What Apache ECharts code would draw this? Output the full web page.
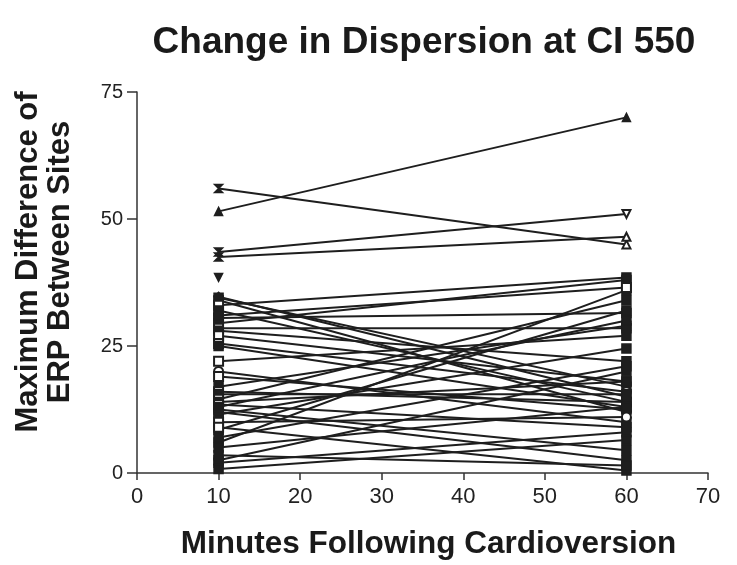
<!DOCTYPE html>
<html><head><meta charset="utf-8">
<script src="https://cdn.jsdelivr.net/npm/echarts@6/dist/echarts.min.js"></script>
<style>html,body{margin:0;padding:0;background:#fff}#c{width:737px;height:565px}</style>
</head><body><div id="c"></div>
<script>
const titleText = 'Change in Dispersion at CI 550';
const xName = 'Minutes Following Cardioversion';
const yNameLines = ['Maximum Difference of', 'ERP Between Sites'];
const timePoints = [10, 60];
const yTicks = [0, 25, 50, 75];
const xTicks = [0, 10, 20, 30, 40, 50, 60, 70];
// value at 10 min and at 60 min for each subject
const at10 = [51.5, 56, 43.5, 42.5, 38.5,
  34.7, 34.5, 34, 33, 32, 30.5, 29.5, 28.5, 28, 27, 25.5, 25,
  20, 19, 17, 16, 15.5, 14.5, 14, 13.5, 12.5, 11.5, 10, 8.5, 6, 5, 2.5, 2, 9, 12, 13,
  22, 0.8, 3.5, 7, 31];
const at60 = [70, 45, 51, 46.5, null,
  15, 17, 12, 38.5, 14, 31.5, 38, 28.5, 22, 18, 16, 13,
  10, 12.5, 29, 14, 15.5, 34, 18, 9, 4.5, 24.5, 11, 32, 36, 13, 20, 8, 0.5, 2.5, 30,
  27, 6.5, 1.5, 21, 36.5];
const hourglass = 'path://M0,0 L10,0 L0,10 L10,10 Z';
const sym10 = ['triangle', hourglass, hourglass, hourglass, 'triangle',
  'diamond','rect','rect','emptyRect','rect','emptyRect','rect','emptyRect','rect','emptyRect','emptyRect','rect',
  'emptyCircle','emptyRect','rect','emptyRect','rect','emptyRect','rect','emptyRect','rect','rect','emptyRect','rect','rect','rect','rect','rect','emptyRect','rect','rect',
  'emptyRect','rect','rect','rect','rect'];
const sym60 = ['triangle','emptyTriangle','emptyTriangle','emptyTriangle','triangle',
  'rect','rect','emptyCircle','rect','rect','rect','rect','rect','rect','rect','emptyCircle','rect',
  'rect','rect','rect','rect','rect','rect','rect','rect','rect','rect','emptyCircle','rect','rect','rect','rect','rect','rect','rect','rect',
  'rect','rect','rect','rect','emptyRect'];

const series = at10.map((v, i) => {
  const d0 = {value: [timePoints[0], v], symbol: sym10[i]};
  const d1 = {value: [timePoints[1], at60[i]], symbol: sym60[i]};
  if (i === 4) d0.symbolRotate = 180;
  if (i === 2) d1.symbolRotate = 180;
  return {
    type: 'line',
    data: at60[i] === null ? [d0] : [d0, d1],
    symbolSize: i < 5 ? 8 : 9,
    showSymbol: true,
    lineStyle: {color: '#1e1e1e', width: 2},
    itemStyle: {color: '#1e1e1e', borderColor: '#1e1e1e', borderWidth: 1.5},
    emphasis: {disabled: true},
    animation: false,
    z: 2
  };
});

const chart = echarts.init(document.getElementById('c'), null, {renderer: 'canvas'});
chart.setOption({
  backgroundColor: '#ffffff',
  animation: false,
  title: {text: titleText, left: 419, top: 19, textAlign: 'center',
    textStyle: {fontFamily: 'Liberation Sans', fontWeight: 'bold', fontSize: 37, color: '#1a1a1a'}},
  grid: {left: 137, right: 29, top: 92, bottom: 92, containLabel: false},
  graphic: [{
    type: 'text', rotation: Math.PI / 2, x: 44, y: 262,
    style: {text: yNameLines.join('\n'), align: 'center', verticalAlign: 'middle',
      font: 'bold 31px "Liberation Sans"', lineHeight: 32, fill: '#1a1a1a'}
  }],
  xAxis: {type: 'value', min: xTicks[0], max: xTicks[xTicks.length - 1], interval: 10,
    name: xName, nameLocation: 'middle', nameGap: 55,
    nameTextStyle: {fontFamily: 'Liberation Sans', fontWeight: 'bold', fontSize: 31.5, color: '#1a1a1a', padding: [0, 0, 0, 12]},
    axisLine: {lineStyle: {color: '#333', width: 1.5}},
    axisTick: {length: 7, lineStyle: {color: '#333', width: 1.5}},
    axisLabel: {fontFamily: 'Liberation Sans', fontSize: 22, color: '#222', margin: 13},
    splitLine: {show: false}},
  yAxis: {type: 'value', min: yTicks[0], max: yTicks[yTicks.length - 1], interval: 25,
    axisLine: {lineStyle: {color: '#333', width: 1.5}},
    axisTick: {length: 10, lineStyle: {color: '#333', width: 1.5}},
    axisLabel: {fontFamily: 'Liberation Sans', fontSize: 20, color: '#222', margin: 14},
    splitLine: {show: false}},
  series: series
});
</script></body></html>
